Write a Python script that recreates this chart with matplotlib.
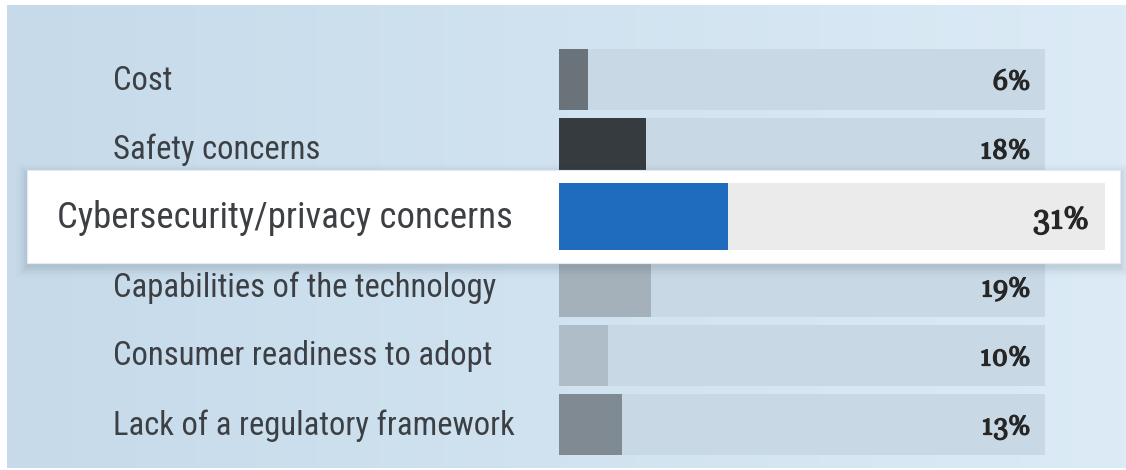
import numpy as np
import matplotlib.pyplot as plt
import matplotlib.patheffects as pe
from matplotlib.patches import Rectangle
from matplotlib.transforms import blended_transform_factory

# Survey responses: share naming each item as the biggest barrier
categories = [
    "Cost",
    "Safety concerns",
    "Cybersecurity/privacy concerns",
    "Capabilities of the technology",
    "Consumer readiness to adopt",
    "Lack of a regulatory framework",
]
values = [6, 18, 31, 19, 10, 13]
value_labels = ["6%", "18%", "31%", "19%", "10%", "13%"]
bar_colors = ["#6a727a", "#363b3f", "#1f6bbd", "#a4b1bb", "#aebdc7", "#7f8a92"]
highlight = 2

W, H = 1126, 470
LABEL_FONT = ["Roboto Condensed", "Archivo Narrow", "DejaVu Sans"]
VALUE_FONT = ["Gelasio", "Liberation Serif", "DejaVu Serif"]
TEXT_COLOR = "#3c3f43"
VALUE_COLOR = "#262626"
ROW_PX = 69          # row pitch of the main bars
BASE_PX = 10         # baseline sits this far below a row's centre


def fig_rect(x0, y0, x1, y1):
    # pixel box (top-left origin) -> figure fraction rect
    return [x0 / W, 1 - y1 / H, (x1 - x0) / W, (y1 - y0) / H]


def fit_size(fig, text, width_px):
    # scale a text's font size so it spans width_px
    renderer = fig.canvas.get_renderer()
    w = text.get_window_extent(renderer).width
    text.set_fontsize(text.get_fontsize() * width_px / w)


# serif numbers drawn a little heavier
bold = [pe.withStroke(linewidth=0.9, foreground=VALUE_COLOR)]

fig = plt.figure(figsize=(W / 100, H / 100), dpi=100)
fig.patch.set_facecolor("white")

# light blue panel with a horizontal gradient
bg = fig.add_axes(fig_rect(7, 5, W, 468))
grad = np.linspace(0, 1, 256).reshape(1, -1)
bg_cmap = plt.matplotlib.colors.LinearSegmentedColormap.from_list(
    "panel", ["#c6daea", "#d1e3f0", "#dcebf6"])
bg.imshow(grad, aspect="auto", cmap=bg_cmap, extent=(0, 1, 0, 1))
bg.set_axis_off()

# main bar axes: x in percent, one row per category
ax = fig.add_axes(fig_rect(559, 45, 1045, 459))
ax.set_xlim(0, 100)
ax.set_ylim(len(categories) - 0.5, -0.5)
ax.set_axis_off()

rows = np.arange(len(categories))
others = [i for i in rows if i != highlight]
ax.barh(rows[others], 100, height=0.885, color="#c8d9e5", zorder=1)
ax.barh(rows[others], [values[i] for i in others], height=0.885,
        color=[bar_colors[i] for i in others], zorder=2)

label_tr = blended_transform_factory(fig.transFigure, ax.transData)
base = BASE_PX / ROW_PX
labels, nums = [], []
for i in others:
    t = fig.text(113 / W, i + base, categories[i], transform=label_tr,
                 ha="left", va="baseline", fontsize=20, family=LABEL_FONT,
                 color=TEXT_COLOR)
    labels.append(t)
    n = ax.text(97, i + base, value_labels[i], ha="right", va="baseline",
                fontsize=16, family=VALUE_FONT, color=VALUE_COLOR,
                path_effects=bold, zorder=3)
    nums.append(n)

# longest regular label runs to x = 513 px, "18%" is about 52 px wide
fit_size(fig, labels[-1], 400)
fit_size(fig, nums[1], 50)
for t in labels[:-1]:
    t.set_fontsize(labels[-1].get_fontsize())
for n in nums:
    n.set_fontsize(nums[1].get_fontsize())

# enlarged highlight row on a white card with a soft shadow
for k, a in enumerate(np.linspace(0.035, 0.006, 7)):
    d = 1 + k * 1.6
    fig.patches.append(Rectangle(((27 - d) / W, 1 - (263 + d + 4) / H),
                                 (1120 - 27 + 2 * d) / W,
                                 (263 - 170 + 2 * d) / H,
                                 transform=fig.transFigure, facecolor="#2e4556",
                                 alpha=a, edgecolor="none", zorder=5))
fig.patches.append(Rectangle((27 / W, 1 - 263 / H), (1120 - 27) / W,
                             (263 - 170) / H, transform=fig.transFigure,
                             facecolor="white", edgecolor="#e6eaee", lw=0.8,
                             zorder=6))

hx = fig.add_axes(fig_rect(559, 183, 1105, 250), zorder=7)
hx.set_xlim(0, 100)
hx.set_ylim(0.5, -0.5)
hx.set_axis_off()
hx.barh([0], [100], height=1.0, color="#ebebeb")
hx.barh([0], [values[highlight]], height=1.0, color=bar_colors[highlight])
hbase = 12 / 67
hn = hx.text(97, hbase, value_labels[highlight], ha="right", va="baseline",
             fontsize=18, family=VALUE_FONT, color=VALUE_COLOR,
             path_effects=bold)
fit_size(fig, hn, 56)
hl_tr = blended_transform_factory(fig.transFigure, hx.transData)
hl = fig.text(57 / W, hbase, categories[highlight], transform=hl_tr,
              ha="left", va="baseline", fontsize=22, family=LABEL_FONT,
              color=TEXT_COLOR, zorder=8)
fit_size(fig, hl, 456)

fig.savefig("out.png", dpi=100, facecolor=fig.get_facecolor())
